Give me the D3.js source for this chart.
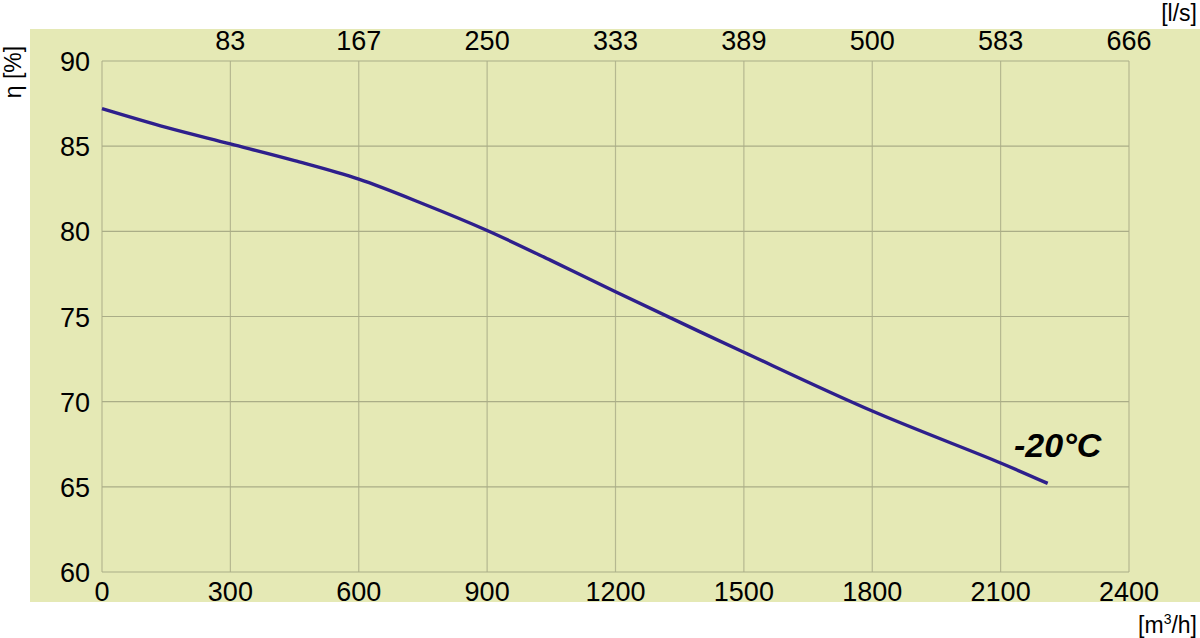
<!DOCTYPE html>
<html><head><meta charset="utf-8">
<script src="https://cdn.jsdelivr.net/npm/d3@7"></script>
<style>body{margin:0;background:#fff}svg{display:block}text{font-family:"Liberation Sans",Arial,sans-serif}</style>
</head><body>
<svg id="c" width="1200" height="638"></svg>
<script>
const flowM3h = [0, 150, 300, 450, 600, 750, 900, 1050, 1200, 1500, 1800, 2100, 2210];
const efficiency = [87.2, 86.1, 85.13, 84.15, 83.06, 81.62, 80.05, 78.28, 76.45, 72.9, 69.45, 66.4, 65.2];
const bottomTicks = [0, 300, 600, 900, 1200, 1500, 1800, 2100, 2400];
const topTickLabels = ["83", "167", "250", "333", "389", "500", "583", "666"];
const yTicks = [60, 65, 70, 75, 80, 85, 90];
const seriesLabel = "-20°C";

const svg = d3.select("#c");
const x = d3.scaleLinear().domain([0, 2400]).range([102, 1129]);
const y = d3.scaleLinear().domain([60, 90]).range([572, 61]);

svg.append("rect").attr("x", 30).attr("y", 29).attr("width", 1170).attr("height", 573).attr("fill", "#e5e9b5");

const grid = svg.append("g").attr("stroke", "#b5b890").attr("stroke-width", 1.2).attr("fill", "none");
grid.selectAll("line.v").data(bottomTicks).join("line")
  .attr("x1", d => x(d)).attr("x2", d => x(d)).attr("y1", y(60)).attr("y2", y(90));
grid.selectAll("line.h").data(yTicks).join("line")
  .attr("x1", x(0)).attr("x2", x(2400)).attr("y1", d => y(d)).attr("y2", d => y(d)).attr("stroke", "#aaad87");

svg.append("g").selectAll("text").data(yTicks).join("text")
  .attr("x", 90).attr("y", d => y(d) + 10).attr("text-anchor", "end")
  .attr("font-size", 27).attr("fill", "#000").text(d => d);

svg.append("g").selectAll("text").data(bottomTicks).join("text")
  .attr("x", d => x(d)).attr("y", 601).attr("text-anchor", "middle")
  .attr("font-size", 27).attr("fill", "#000").text(d => d);

svg.append("g").selectAll("text").data(topTickLabels).join("text")
  .attr("x", (d, i) => x(bottomTicks[i + 1])).attr("y", 50).attr("text-anchor", "middle")
  .attr("font-size", 27).attr("fill", "#000").text(d => d);

svg.append("text").attr("x", 1197).attr("y", 21).attr("text-anchor", "end")
  .attr("font-size", 23).text("[l/s]");

const m = svg.append("text").attr("x", 1197).attr("y", 633).attr("text-anchor", "end").attr("font-size", 23);
m.append("tspan").text("[m");
m.append("tspan").attr("font-size", 14).attr("dy", -9).text("3");
m.append("tspan").attr("dy", 9).text("/h]");

svg.append("text").attr("transform", "translate(21,72) rotate(-90)").attr("text-anchor", "middle")
  .attr("font-size", 23).text("η [%]");

const pts = flowM3h.map((f, i) => [f, efficiency[i]]);
svg.append("path").datum(pts)
  .attr("d", d3.line().x(d => x(d[0])).y(d => y(d[1])).curve(d3.curveCatmullRom.alpha(0.5)))
  .attr("fill", "none").attr("stroke", "#2e1f8c").attr("stroke-width", 3.4);

svg.append("text").attr("x", 1014).attr("y", 457).attr("font-size", 34)
  .attr("font-weight", "bold").attr("font-style", "italic").text(seriesLabel);
</script>
</body></html>
